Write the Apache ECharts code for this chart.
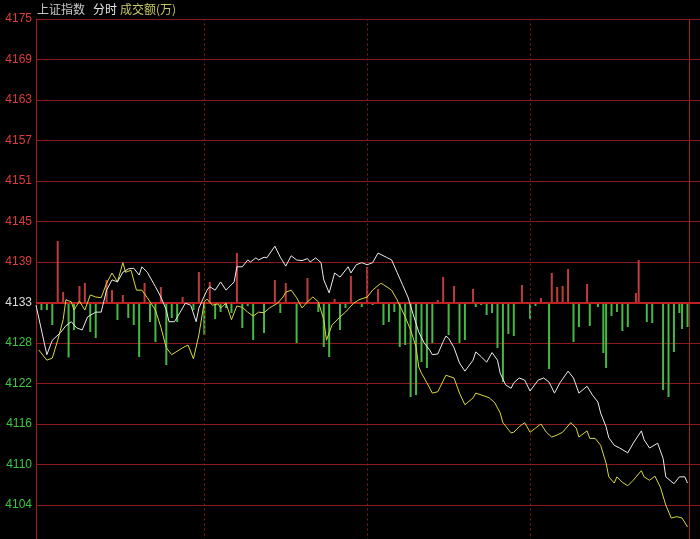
<!DOCTYPE html>
<html><head><meta charset="utf-8">
<script src="https://cdn.jsdelivr.net/npm/echarts@6/dist/echarts.min.js"></script>
<style>html,body{margin:0;padding:0;background:#000;}#c{width:700px;height:539px;}</style>
</head><body><div id="c"></div>
<script>
const tickLabels = ['4175','4169','4163','4157','4151','4145','4139','4133','4128','4122','4116','4110','4104'];
const Y_TOP = 4175, Y_STEP = 5.9;
const BASE = 4133.7;

const priceMinutes = [0,4,6,9,11,13,15,17,19,22,24,26,28,30,32,34,36,38,39,41,44,46,48,49,51,53,55,57,59,60,63,64,66,68,70,73,74,76,78,79,81,82,84,85,88,90,92,94,96,98,100,101,103,105,106,108,110,112,115,116,118,120,122,124,126,129,131,133,135,137,139,141,143,145,146,148,150,151,152,154,156,158,161,162,164,166,168,170,171,173,175,176,178,180,182,185,187,189,191,193,196,198,200,203,205,207,208,210,211,213,215,218,220,223,224,226,229,231,232,235,237,239,240];
const priceValues = [4133.3,4126.1,4128.2,4129.3,4130.3,4130.9,4130.0,4129.7,4131.6,4132.3,
4132.3,4135.5,4137.0,4136.7,4138.1,4138.6,4138.7,4137.7,4138.9,4138.1,
4136.0,4134.5,4132.6,4130.9,4130.9,4132.2,4133.6,4133.3,4130.9,4132.9,
4135.5,4136.0,4135.5,4136.7,4135.5,4136.7,4138.9,4138.9,4139.9,4139.6,
4140.2,4139.9,4140.3,4140.2,4141.9,4140.3,4139.0,4140.5,4139.9,4139.8,
4140.1,4139.6,4140.2,4139.5,4137.0,4135.1,4138.0,4137.4,4138.9,4138.0,
4139.2,4139.5,4139.2,4139.5,4140.9,4140.3,4139.9,4138.1,4136.3,4134.5,
4131.9,4129.4,4127.8,4126.8,4126.1,4126.2,4128.0,4128.8,4128.5,4127.1,
4124.9,4123.7,4125.3,4126.5,4125.8,4125.0,4126.4,4125.3,4123.4,4121.7,
4121.2,4122.0,4122.7,4122.4,4120.8,4122.4,4122.7,4122.1,4120.5,4122.0,
4123.7,4122.7,4120.5,4121.5,4120.2,4119.2,4117.6,4115.6,4114.0,4112.9,
4112.5,4111.8,4113.2,4115.0,4113.7,4112.5,4113.2,4111.0,4108.3,4107.3,
4108.3,4108.3,4107.4];

const avgMinutes = [1,4,6,8,10,11,13,14,16,18, 20,22,24,26,28,30,32,33,35,37, 39,41,44,46,48,50,54,56,58,60,
62,63,65,67,68,70,72,74,76,78, 80,82,84,86,89,91,92,94,96,98, 100,102,104,106,107,109,112,114,117,119,
122,124,127,128,131,133,136,138,140,141, 142,144,146,148,151,154,156,158,161,162, 165,167,169,171,172,175,176,178,180,182,
184,186,188,190,192,194,197,199,200,203, 204,206,208,210,211,213,214,216,218,220, 223,224,226,228,230,232,234,236,238,240];
const avgValues = [4126.8,4125.3,4125.6,4128.2,4131.2,4134.1,4133.8,4132.6,4133.9,4132.6,
4134.8,4134.5,4134.4,4136.5,4138.0,4136.7,4139.5,4138.1,4138.4,4135.5,
4135.5,4134.4,4132.6,4130.1,4127.1,4126.1,4127.1,4127.5,4125.5,4129.0,
4133.8,4134.2,4133.3,4133.5,4132.9,4133.6,4131.2,4133.2,4133.0,4132.3,
4131.7,4132.3,4132.2,4132.9,4133.6,4134.5,4135.2,4135.5,4134.4,4132.9,
4133.8,4134.5,4133.8,4131.2,4128.2,4130.4,4131.6,4132.3,4133.6,4134.1,
4134.5,4135.5,4136.5,4136.3,4135.5,4134.1,4131.6,4129.7,4127.2,4124.3,
4123.4,4122.0,4120.5,4120.7,4123.1,4122.7,4120.5,4118.8,4119.8,4120.5,
4120.1,4119.8,4119.1,4117.6,4116.2,4114.7,4114.8,4115.6,4116.2,4114.8,
4115.4,4116.0,4114.8,4114.1,4114.4,4114.8,4116.2,4115.4,4114.1,4115.0,
4113.9,4113.9,4112.9,4110.3,4108.3,4107.4,4108.3,4107.5,4107.0,4107.8,
4109.2,4108.3,4107.8,4108.4,4106.8,4104.2,4102.3,4102.5,4102.3,4101.0];

const upMinutes = [8,10,16,18,26,28,32,40,46,54,60,64,74,88,92,100,110,116,122,126,148,150,154,161,179,186,190,192,194,196,203,221,222];
const upVolumes = [61.5,10.5,16.5,19.5,22.5,12.5,7.5,19.5,15.5,5.5,30.5,20.5,49.5,22.5,19.5,24.5,3.5,26.5,35.5,13.5,2.5,25.5,16.5,13.5,17.5,4.5,29.5,15.5,16.5,33.5,18.5,9.5,42.5];
const downMinutes = [2,4,6,12,14,20,22,30,34,36,38,42,44,48,50,52,58,62,66,68,70,72,76,78,80,84,90,96,104,106,108,112,114,120,124,128,130,132,134,136,138,140,142,144,146,152,156,158,162,164,166,168,170,172,174,176,182,184,189,198,200,204,207,209,210,212,214,216,218,225,227,231,233,235,237,238,240];
const downVolumes = [7.5,7.5,22.5,55,27.5,29.5,35.5,17.5,15.5,22.5,54.5,19.5,39.5,62.5,15.5,19.5,7.5,32.5,16.5,9.5,5.5,10.5,25.5,3.5,37.5,30.5,10.5,40.5,9.5,44.5,54.5,27.5,5.5,4.5,2.5,22.5,19.5,9.5,44.5,42.5,94.5,92.5,59.5,65.5,40.5,32.5,40.5,37.5,4.5,2.5,12.5,10.5,45.5,79.5,31.5,33.5,16.5,3.5,66.5,39.5,24.5,23.5,4.5,50.5,65.5,13.5,9.5,28.5,24.5,19.5,20.5,87.5,94.5,49.5,10.5,26.5,24.5];

const sessionMarks = [62,122,182];
const dayEnd = 240.5;

const zip = (a,b) => a.map((x,i)=>[x,b[i]]);
const chart = echarts.init(document.getElementById('c'), null, {renderer:'canvas'});
const gridRed = '#8e1b1b';
const option = {
  backgroundColor: '#000',
  animation: false,
  graphic: [
    {type:'text', left:37, top:3, style:{text:'上证指数', fill:'#c8c8c8', font:'12px "Noto Sans CJK SC"'}},
    {type:'text', left:93, top:3, style:{text:'分时', fill:'#e6e6e6', font:'12px "Noto Sans CJK SC"'}},
    {type:'text', left:120, top:3, style:{text:'成交额(万)', fill:'#c8c864', font:'12px "Noto Sans CJK SC"'}}
  ],
  grid: {left:36, top:19, width:664, height:526.5, outerBoundsMode:'none', containLabel:false},
  xAxis: {type:'value', min:0, max:244.6, show:true,
    axisLine:{show:false}, axisTick:{show:false}, axisLabel:{show:false}, splitLine:{show:false}},
  yAxis: [
    {type:'value', max:Y_TOP, min:Y_TOP-13*Y_STEP, interval:Y_STEP,
     axisLine:{show:true, lineStyle:{color:'#a02020', width:1}},
     axisTick:{show:false},
     splitLine:{show:true, lineStyle:{color:gridRed, width:1}},
     axisLabel:{margin:4, fontSize:12, fontFamily:'Liberation Sans',
       showMinLabel:true, showMaxLabel:true,
       formatter:(v)=>{const i=Math.round((Y_TOP-v)/Y_STEP); return tickLabels[i]||'';},
       color:(v)=>{const i=Math.round((Y_TOP-v)/Y_STEP); return i<7?'#dc3c3c':(i===7?'#dcdcdc':'#3cc83c');}
     }},
    {type:'value', min:-243, max:283.5, show:false, splitLine:{show:false}}
  ],
  series: [
    {type:'bar', yAxisIndex:1, barWidth:2, barGap:'-100%', itemStyle:{color:'#c03c3c'},
     data: zip(upMinutes, upVolumes),
     markLine:{silent:true, symbol:'none', label:{show:false},
       data:[
         ...sessionMarks.map(m=>({xAxis:m, lineStyle:{color:'#8e1b1b', type:[2,3], width:1}})),
         {xAxis:dayEnd, lineStyle:{color:'#a02020', type:'solid', width:1}}
       ]}},
    {type:'bar', yAxisIndex:1, barWidth:2, barGap:'-100%', itemStyle:{color:'#46b846'},
     data: zip(downMinutes, downVolumes.map(v=>-v))},
    {type:'line', yAxisIndex:0, symbol:'none', z:4, lineStyle:{color:'#c02020', width:0},
     data:[], markLine:{silent:true, symbol:'none', label:{show:false},
       data:[{yAxis:BASE, lineStyle:{color:'#c02020', type:'solid', width:2}}]}},
    {type:'line', yAxisIndex:0, symbol:'none', z:5, lineStyle:{color:'#d8d840', width:1},
     data: zip(avgMinutes, avgValues)},
    {type:'line', yAxisIndex:0, symbol:'none', z:6, lineStyle:{color:'#ececec', width:1},
     data: zip(priceMinutes, priceValues)}
  ]
};
chart.setOption(option);
</script></body></html>
